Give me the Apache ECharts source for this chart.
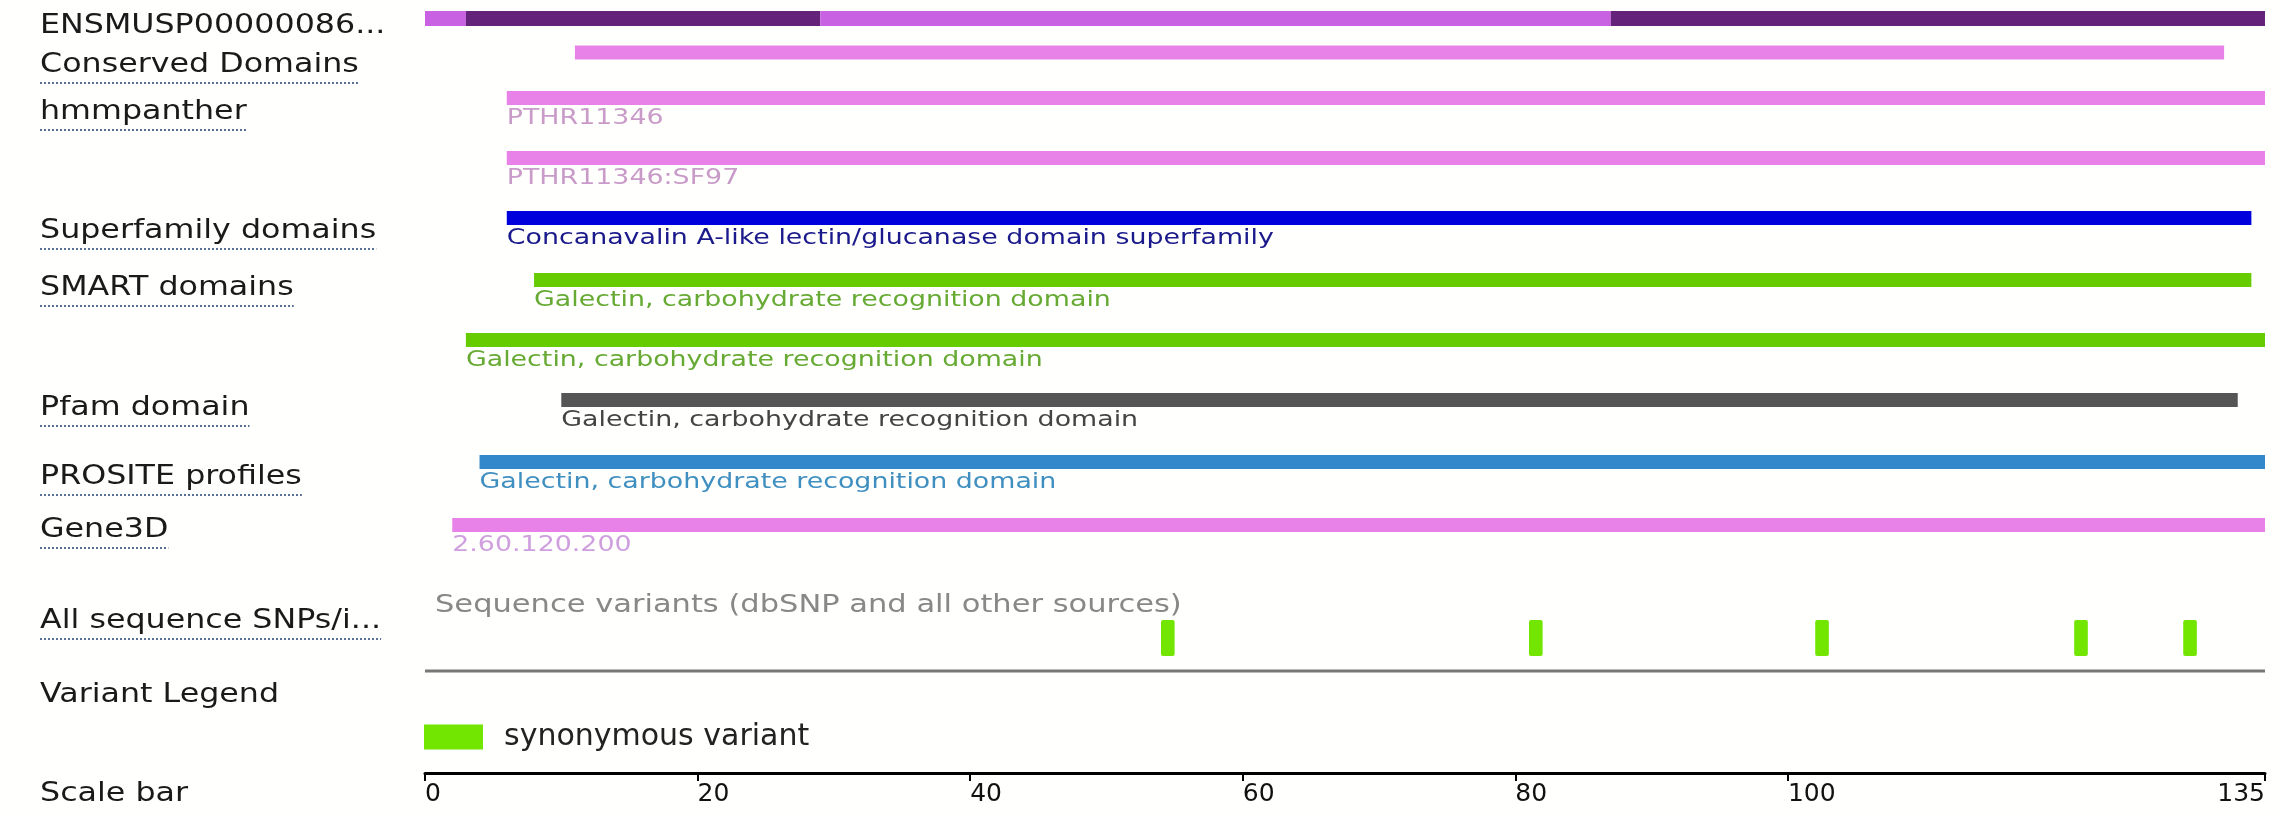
<!DOCTYPE html>
<html>
<head>
<meta charset="utf-8">
<title>ENSMUSP00000086 protein summary</title>
<script src="https://cdn.jsdelivr.net/npm/echarts@6/dist/echarts.min.js"></script>
<style>
  html, body { margin: 0; padding: 0; background: #fffffd; }
  #chart { width: 2279px; height: 815px; }
</style>
</head>
<body>
<div id="chart"></div>
<script>
// values (residue numbers, 1-based)
const trackNames = ['ENSMUSP00000086...', 'Conserved Domains', 'hmmpanther', 'Superfamily domains', 'SMART domains',
  'Pfam domain', 'PROSITE profiles', 'Gene3D', 'All sequence SNPs/i...', 'Variant Legend', 'Scale bar'];
const proteinLength = 135;
const exonEnds = [3, 29, 87, 135];
const featureSources = ['Conserved Domains', 'hmmpanther', 'hmmpanther', 'Superfamily', 'SMART', 'SMART', 'Pfam', 'PROSITE', 'Gene3D'];
const featureLabels = ['', 'PTHR11346', 'PTHR11346:SF97', 'Concanavalin A-like lectin/glucanase domain superfamily',
  'Galectin, carbohydrate recognition domain', 'Galectin, carbohydrate recognition domain',
  'Galectin, carbohydrate recognition domain', 'Galectin, carbohydrate recognition domain', '2.60.120.200'];
const featureStarts = [12, 7, 7, 7, 9, 4, 11, 5, 3];
const featureEnds = [132, 135, 135, 134, 134, 135, 133, 135, 135];
const variantPositions = [55, 82, 103, 122, 130];
const variantType = 'synonymous variant';
const variantTrackTitle = 'Sequence variants (dbSNP and all other sources)';
const scaleTicks = [0, 20, 40, 60, 80, 100, 135];

// layout: pixel rows and styles
const FONT = 'DejaVu Sans';
const STRETCH = 1.22; // the screenshot text is wider than it is tall
const trackNameY = [26, 65, 112, 231, 288, 408, 477, 530, 621, 695, 794];
const underlined = [false, true, true, true, true, true, true, true, true, false, false];
const proteinRowY = 18.5;
const featureRowY = [52.5, 98, 158, 218, 280, 340, 400, 462, 525];
const variantRowY = 638;
const baselineY = 671;
const sourceColors = {
  'Conserved Domains': { bar: '#e882e8', text: '#c99bc9' },
  hmmpanther: { bar: '#e882e8', text: '#c99bc9' },
  Superfamily: { bar: '#0000dd', text: '#1a1a8c' },
  SMART: { bar: '#66cc00', text: '#66aa33' },
  Pfam: { bar: '#555555', text: '#444444' },
  PROSITE: { bar: '#3388cc', text: '#3f8fc0' },
  Gene3D: { bar: '#e882e8', text: '#cf9fdf' }
};
const exonColors = ['#c862e3', '#65227a'];
const variantColor = '#72e600';

const chart = echarts.init(document.getElementById('chart'));

// measure label widths for the dotted underline
const ctx = document.createElement('canvas').getContext('2d');
ctx.font = '26px "' + FONT + '"';

const nameGraphics = [];
trackNames.forEach((name, i) => {
  nameGraphics.push({
    type: 'text', x: 40, y: trackNameY[i], scaleX: STRETCH,
    style: { text: name, fill: '#1a1a1a', fontSize: 26, fontFamily: FONT, verticalAlign: 'middle' }
  });
  if (underlined[i]) {
    const w = ctx.measureText(name).width * STRETCH;
    nameGraphics.push({
      type: 'line', shape: { x1: 40, y1: trackNameY[i] + 18, x2: 40 + w, y2: trackNameY[i] + 18 },
      style: { stroke: '#5a6e9a', lineWidth: 2, lineDash: [2, 2] }
    });
  }
});
nameGraphics.push({
  type: 'text', x: 435, y: 605, scaleX: STRETCH,
  style: { text: variantTrackTitle, fill: '#888888', fontSize: 25, fontFamily: FONT, verticalAlign: 'middle' }
});

function renderExon(params, api) {
  const a = api.coord([api.value(0), proteinRowY]);
  const b = api.coord([api.value(1), proteinRowY]);
  return { type: 'rect', shape: { x: a[0], y: a[1] - 7.5, width: b[0] - a[0], height: 15 },
    style: { fill: exonColors[api.value(2) % 2] } };
}

function renderFeature(params, api) {
  const i = api.value(2);
  const y = featureRowY[i];
  const a = api.coord([api.value(0), y]);
  const b = api.coord([api.value(1), y]);
  const c = sourceColors[featureSources[i]];
  const children = [{ type: 'rect', shape: { x: a[0], y: a[1] - 7, width: b[0] - a[0], height: 14 }, style: { fill: c.bar } }];
  if (featureLabels[i]) {
    children.push({ type: 'text', x: a[0], y: a[1] + 20, scaleX: STRETCH,
      style: { text: featureLabels[i], fill: c.text, fontSize: 22, fontFamily: FONT, verticalAlign: 'middle' } });
  }
  return { type: 'group', children };
}

function renderVariant(params, api) {
  const p = api.value(0);
  const a = api.coord([p - 1, variantRowY]);
  const b = api.coord([p, variantRowY]);
  return { type: 'rect', shape: { x: a[0], y: a[1] - 18, width: b[0] - a[0], height: 36, r: 2 },
    style: { fill: variantColor } };
}

function renderBaseline(params, api) {
  const a = api.coord([api.value(0), baselineY]);
  const b = api.coord([api.value(1), baselineY]);
  return { type: 'line', shape: { x1: a[0], y1: a[1], x2: b[0], y2: b[1] }, style: { stroke: '#777777', lineWidth: 3 } };
}

chart.setOption({
  backgroundColor: '#fffffd',
  animation: false,
  textStyle: { fontFamily: FONT },
  grid: { left: 425, right: 14, top: 0, bottom: 42 },
  xAxis: {
    type: 'value', min: 0, max: proteinLength, position: 'bottom',
    axisLine: { onZero: false, lineStyle: { color: '#000', width: 3 } },
    axisTick: { customValues: scaleTicks, length: 8, lineStyle: { color: '#000', width: 2 } },
    axisLabel: { customValues: scaleTicks, align: 'left', alignMaxLabel: 'right', margin: 9,
      fontSize: 25, color: '#111', fontFamily: FONT },
    splitLine: { show: false }
  },
  yAxis: { type: 'value', min: 0, max: 773, inverse: true, show: false },
  legend: {
    data: [variantType], left: 424, top: 722, padding: 0,
    icon: 'rect', itemWidth: 59, itemHeight: 25,
    textStyle: { fontSize: 30, color: '#222', fontFamily: FONT, padding: [0, 0, 0, 16] }
  },
  graphic: nameGraphics,
  series: [
    { type: 'custom', name: 'exons', renderItem: renderExon,
      data: exonEnds.map((e, i) => [i ? exonEnds[i - 1] : 0, e, i]) },
    { type: 'custom', name: 'features', renderItem: renderFeature,
      data: featureStarts.map((s, i) => [s - 1, featureEnds[i], i]) },
    { type: 'custom', name: 'baseline', renderItem: renderBaseline, data: [[0, proteinLength]] },
    { type: 'custom', name: variantType, renderItem: renderVariant, itemStyle: { color: variantColor },
      data: variantPositions.map(p => [p]) }
  ]
});
</script>
</body>
</html>
